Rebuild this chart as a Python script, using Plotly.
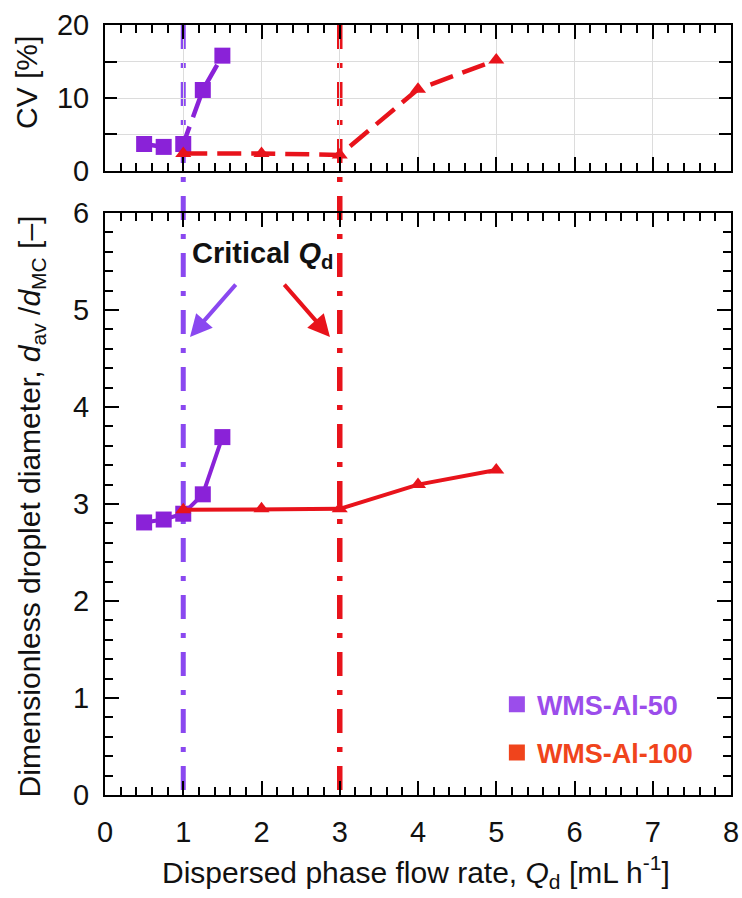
import plotly.graph_objects as go

# ---------------- data ----------------
qd_al50 = [0.5, 0.75, 1.0, 1.25, 1.5]
cv_al50 = [3.7, 3.3, 3.7, 11.1, 15.8]
d_al50 = [2.81, 2.84, 2.90, 3.10, 3.69]

qd_al100 = [1, 2, 3, 4, 5]
cv_al100 = [2.4, 2.4, 2.2, 11.2, 15.2]
d_al100 = [2.94, 2.95, 2.95, 3.20, 3.35]

critical_qd = [1, 3]
series_names = ["WMS-Al-50", "WMS-Al-100"]
cv_ticks = [0, 10, 20]
cv_minor_ticks = [5, 15]

# ---------------- style ----------------
PURPLE = "#8A22D8"
PURPLE_LINE = "#8A48F0"
PURPLE_LEG = "#9B4DEB"
RED = "#E8131B"
RED_LEG = "#F0441C"
FONT = "Liberation Sans, Arial, sans-serif"

fig = go.Figure()

# bottom panel (solid)
fig.add_trace(go.Scatter(x=qd_al50, y=d_al50, mode="lines+markers", xaxis="x", yaxis="y",
                         line=dict(color=PURPLE, width=4),
                         marker=dict(symbol="square", size=16, color=PURPLE),
                         showlegend=False))
fig.add_trace(go.Scatter(x=qd_al100, y=d_al100, mode="lines+markers", xaxis="x", yaxis="y",
                         line=dict(color=RED, width=4),
                         marker=dict(symbol="triangle-up", size=14, color=RED),
                         showlegend=False))
# top panel (dashed)
fig.add_trace(go.Scatter(x=qd_al50, y=cv_al50, mode="lines+markers", xaxis="x2", yaxis="y2",
                         line=dict(color=PURPLE, width=4.5, dash="24px,10px"),
                         marker=dict(symbol="square", size=16, color=PURPLE),
                         showlegend=False))
fig.add_trace(go.Scatter(x=qd_al100, y=cv_al100, mode="lines+markers", xaxis="x2", yaxis="y2",
                         line=dict(color=RED, width=4.5, dash="24px,10px"),
                         marker=dict(symbol="triangle-up", size=14, color=RED),
                         showlegend=False))

# legend-only entries
for name, col, grp in [(series_names[0], PURPLE_LEG, "a"), (series_names[1], RED_LEG, "b")]:
    fig.add_trace(go.Scatter(x=[None], y=[None], mode="markers", xaxis="x", yaxis="y",
                             marker=dict(symbol="square", size=16, color=col),
                             name=f"<span style='color:{col}'><b>{name}</b></span>",
                             legendgroup=grp, showlegend=True))

# critical Qd vertical dash-dot lines
for xv, col, w in [(critical_qd[0], PURPLE_LINE, 5), (critical_qd[1], RED, 5.5)]:
    fig.add_shape(type="line", xref="x", yref="paper", x0=xv, x1=xv, y0=1, y1=0,
                  line=dict(color=col, width=w, dash="24px,14px,5px,14px"), layer="below")

axis_common = dict(showline=True, linewidth=2, linecolor="black", mirror="allticks",
                   ticks="inside", tickwidth=2, tickcolor="black", zeroline=False,
                   tickfont=dict(family=FONT, size=29, color="#111"), automargin=False)

fig.update_layout(
    width=742, height=898,
    margin=dict(l=105, r=11, t=25, b=103),
    paper_bgcolor="white", plot_bgcolor="white",
    font=dict(family=FONT, color="#111"),
    xaxis=dict(domain=[0, 1], range=[0, 8], anchor="y", dtick=1, ticklen=14,
               ticklabelstandoff=10,
               minor=dict(dtick=0.2, ticks="inside", ticklen=8, tickwidth=1.5, tickcolor="black"),
               showgrid=False, **axis_common),
    yaxis=dict(domain=[0, 0.7558], range=[0, 6], anchor="x", dtick=1, ticklen=14,
               ticklabelstandoff=8,
               minor=dict(dtick=0.2, ticks="inside", ticklen=8, tickwidth=1.5, tickcolor="black"),
               showgrid=False, **axis_common),
    xaxis2=dict(domain=[0, 1], range=[0, 8], anchor="y2", dtick=1, ticklen=14,
                showticklabels=False,
                minor=dict(dtick=0.2, ticks="inside", ticklen=8, tickwidth=1.5, tickcolor="black"),
                showgrid=True, gridcolor="#dcdcdc", gridwidth=1, **axis_common),
    yaxis2=dict(domain=[0.8104, 1], range=[0, 20], anchor="x2",
                tickvals=cv_ticks, ticklen=12, ticklabelstandoff=8,
                minor=dict(tickvals=cv_minor_ticks, ticks="inside", ticklen=12, tickwidth=2,
                           tickcolor="black", showgrid=True, gridcolor="#dcdcdc", gridwidth=1),
                showgrid=True, gridcolor="#dcdcdc", gridwidth=1, **axis_common),
    legend=dict(x=0.626, y=0.149, xanchor="left", yanchor="top",
                font=dict(family=FONT, size=27), bgcolor="rgba(255,255,255,0)",
                tracegroupgap=10),
    showlegend=True,
)

annotations = [
    dict(text="Dispersed phase flow rate, <i>Q</i><sub>d</sub> [mL h<sup>-1</sup>]",
         xref="paper", yref="paper", x=0.497, y=-0.1, xanchor="center", yanchor="middle",
         showarrow=False, font=dict(family=FONT, size=30, color="#111")),
    dict(text="Dimensionless droplet diameter, <i>d</i><sub>av</sub> /<i>d</i><sub>MC</sub> [–]",
         xref="paper", yref="paper", x=-0.118, y=0.375, xanchor="center", yanchor="middle",
         textangle=-90, showarrow=False, font=dict(family=FONT, size=30, color="#111")),
    dict(text="CV [%]", xref="paper", yref="paper", x=-0.1246, y=0.9247,
         xanchor="center", yanchor="middle", textangle=-90, showarrow=False,
         font=dict(family=FONT, size=30, color="#111")),
    dict(text="<b>Critical <i>Q</i><sub>d</sub></b>", xref="x", yref="y", x=2.01, y=5.567,
         xanchor="center", yanchor="middle", showarrow=False,
         font=dict(family=FONT, size=29, color="#111")),
    dict(text="", xref="x", yref="y", x=1.086, y=4.722, ax=1.687, ay=5.278,
         axref="x", ayref="y", showarrow=True, arrowhead=2, arrowsize=1.1, arrowwidth=4,
         arrowcolor=PURPLE_LINE),
    dict(text="", xref="x", yref="y", x=2.875, y=4.722, ax=2.275, ay=5.278,
         axref="x", ayref="y", showarrow=True, arrowhead=2, arrowsize=1.1, arrowwidth=4,
         arrowcolor=RED),
]
fig.update_layout(annotations=annotations)

fig.write_html("out.html")
